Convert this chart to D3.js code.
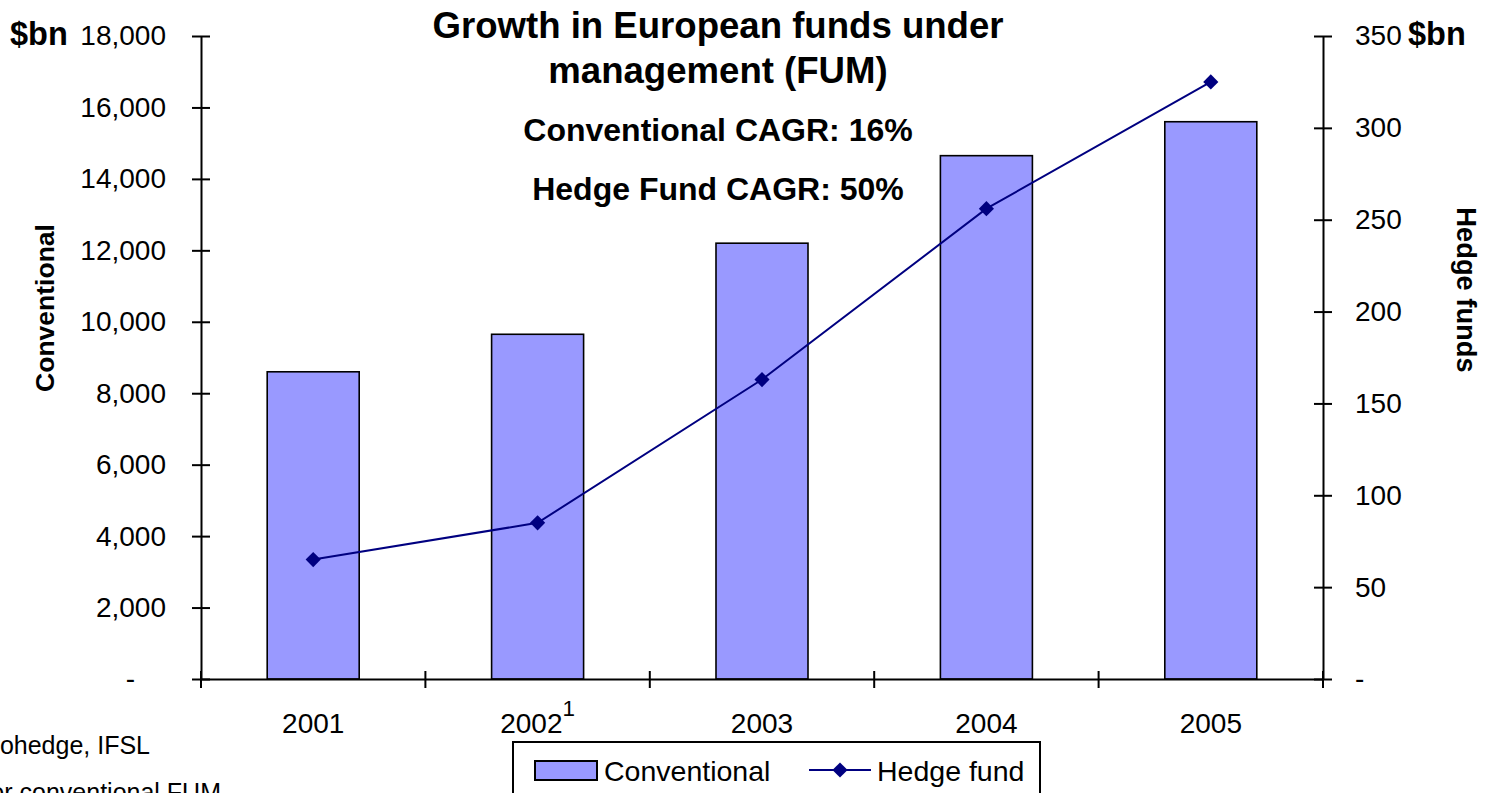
<!DOCTYPE html>
<html>
<head>
<meta charset="utf-8">
<script src="https://cdn.jsdelivr.net/npm/d3@7"></script>
<style>
  html, body { margin: 0; padding: 0; background: #fff; overflow: hidden; }
  svg { display: block; font-family: Arial, "Liberation Sans", sans-serif; }
</style>
</head>
<body>
<svg id="chart" width="1491" height="793"></svg>
<script>
// Years on the category axis, with footnote marks
const years = ["2001", "2002", "2003", "2004", "2005"];
const yearNotes = ["", "1", "", "", ""];

// Conventional funds under management, $bn (left axis)
const conventional = [8600, 9650, 12200, 14650, 15600];
// Hedge fund assets, $bn (right axis)
const hedgeFund = [65, 85, 163, 256, 325];

// Axis tick values
const leftTicks = [0, 2000, 4000, 6000, 8000, 10000, 12000, 14000, 16000, 18000];
const rightTicks = [0, 50, 100, 150, 200, 250, 300, 350];

const svg = d3.select("#chart");

const plot = { left: 201, right: 1323, top: 36, bottom: 679 };

const x = d3.scaleBand()
  .domain(years)
  .range([plot.left, plot.right])
  .paddingInner(0.59)
  .paddingOuter(0.295);

const yL = d3.scaleLinear().domain([0, 18000]).range([plot.bottom, plot.top]);
const yR = d3.scaleLinear().domain([0, 350]).range([plot.bottom, plot.top]);

const numFmt = d3.format(",");

// Bars
svg.append("g")
  .selectAll("rect")
  .data(conventional)
  .join("rect")
  .attr("x", (d, i) => x(years[i]))
  .attr("y", d => yL(d))
  .attr("width", x.bandwidth())
  .attr("height", d => yL(0) - yL(d))
  .attr("fill", "#9999ff")
  .attr("stroke", "#000")
  .attr("stroke-width", 1.6);

// Left axis
const gL = svg.append("g")
  .attr("transform", `translate(${plot.left},0)`)
  .call(d3.axisLeft(yL)
    .tickValues(leftTicks)
    .tickSizeInner(9)
    .tickSizeOuter(0)
    .tickPadding(26)
    .tickFormat(d => d === 0 ? "-" : numFmt(d)));
gL.selectAll(".tick line").attr("x1", 9);
gL.selectAll(".tick text").filter(d => d === 0).attr("dx", -31);

// Right axis
const gR = svg.append("g")
  .attr("transform", `translate(${plot.right},0)`)
  .call(d3.axisRight(yR)
    .tickValues(rightTicks)
    .tickSizeInner(9)
    .tickSizeOuter(0)
    .tickPadding(23)
    .tickFormat(d => d === 0 ? "-" : numFmt(d)));
gR.selectAll(".tick line").attr("x1", -9);

// Category axis
const gX = svg.append("g")
  .attr("transform", `translate(0,${plot.bottom})`)
  .call(d3.axisBottom(x).tickSize(0).tickPadding(34).tickFormat(d => d));
gX.selectAll(".tick text").each(function (d, i) {
  if (yearNotes[i]) {
    d3.select(this).append("tspan")
      .attr("dy", "-0.75em")
      .attr("font-size", "0.8em")
      .text(yearNotes[i]);
  }
});
// Tick marks between categories
const step = x.step();
const bounds = years.map(y => x(y) + x.bandwidth() / 2 - step / 2)
  .concat([x(years[years.length - 1]) + x.bandwidth() / 2 + step / 2]);
gX.selectAll("line.sep")
  .data(bounds)
  .join("line")
  .attr("class", "sep")
  .attr("x1", d => d).attr("x2", d => d)
  .attr("y1", -8).attr("y2", 9)
  .attr("stroke", "#000").attr("stroke-width", 2);

[gL, gR, gX].forEach(g => {
  g.selectAll(".domain").attr("stroke", "#000").attr("stroke-width", 2);
  g.selectAll(".tick line").attr("stroke", "#000").attr("stroke-width", 2);
  g.selectAll("text").attr("font-size", 28).attr("fill", "#000")
    .attr("font-family", "Arial, 'Liberation Sans', sans-serif");
});

// Hedge fund line
const cx = i => x(years[i]) + x.bandwidth() / 2;
svg.append("path")
  .datum(hedgeFund)
  .attr("d", d3.line().x((d, i) => cx(i)).y(d => yR(d)))
  .attr("fill", "none")
  .attr("stroke", "#000080")
  .attr("stroke-width", 2);

const diamond = d3.symbol(d3.symbolSquare, 115);
svg.append("g")
  .selectAll("path")
  .data(hedgeFund)
  .join("path")
  .attr("d", diamond)
  .attr("transform", (d, i) => `translate(${cx(i)},${yR(d)}) rotate(45)`)
  .attr("fill", "#000080");

// Titles and annotations
const bold = (t, xx, yy, size, anchor = "middle") =>
  svg.append("text")
    .attr("x", xx).attr("y", yy)
    .attr("text-anchor", anchor)
    .attr("font-size", size)
    .attr("font-weight", "bold")
    .text(t);

bold("Growth in European funds under", 718, 38, 36.6);
bold("management (FUM)", 718, 83, 36.6);
bold("Conventional CAGR: 16%", 718, 141, 32);
bold("Hedge Fund CAGR: 50%", 718, 200, 32);
bold("$bn", 10, 45, 32.5, "start");
bold("$bn", 1408, 45, 32.5, "start");

svg.append("text")
  .attr("transform", "translate(54,308) rotate(-90)")
  .attr("text-anchor", "middle")
  .attr("font-size", 26.5)
  .attr("font-weight", "bold")
  .text("Conventional");

svg.append("text")
  .attr("transform", "translate(1457,290) rotate(90)")
  .attr("text-anchor", "middle")
  .attr("font-size", 27.3)
  .attr("font-weight", "bold")
  .text("Hedge funds");

// Source notes
svg.append("text")
  .attr("x", 150).attr("y", 754)
  .attr("text-anchor", "end")
  .attr("font-size", 25)
  .text("Source: Eurohedge, IFSL");
svg.append("text")
  .attr("x", 221).attr("y", 801)
  .attr("text-anchor", "end")
  .attr("font-size", 25)
  .text("1 Estimate for conventional FUM");

// Legend
const lg = svg.append("g");
lg.append("rect")
  .attr("x", 513).attr("y", 742)
  .attr("width", 527).attr("height", 70)
  .attr("fill", "#fff")
  .attr("stroke", "#000").attr("stroke-width", 2);
lg.append("rect")
  .attr("x", 535).attr("y", 761)
  .attr("width", 62).attr("height", 19)
  .attr("fill", "#9999ff")
  .attr("stroke", "#000").attr("stroke-width", 2);
lg.append("text")
  .attr("x", 604).attr("y", 781)
  .attr("font-size", 28.5)
  .text("Conventional");
lg.append("line")
  .attr("x1", 809).attr("x2", 871)
  .attr("y1", 770).attr("y2", 770)
  .attr("stroke", "#000080").attr("stroke-width", 2);
lg.append("path")
  .attr("d", diamond)
  .attr("transform", "translate(840,770) rotate(45)")
  .attr("fill", "#000080");
lg.append("text")
  .attr("x", 877).attr("y", 781)
  .attr("font-size", 28.5)
  .text("Hedge fund");
</script>
</body>
</html>
